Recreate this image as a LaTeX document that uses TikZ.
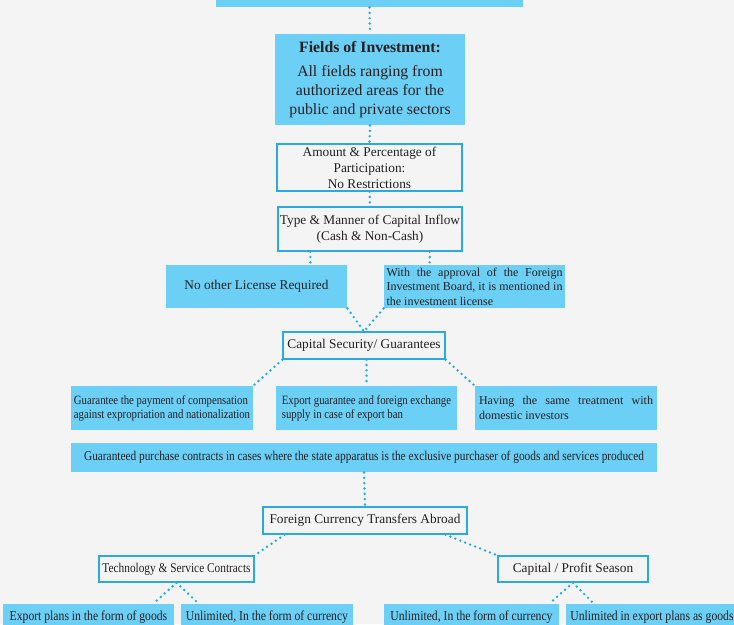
\documentclass[tikz,border=0pt]{standalone}
\usepackage{fontspec}
\setmainfont{Liberation Serif}
\newfontfamily\narrowfont[FakeStretch=0.85]{Liberation Serif}
\usetikzlibrary{calc}

\tikzset{every picture/.style={line width=0.75pt}}
\tikzset{
  bluebox/.style={fill={rgb, 255:red, 107; green, 207; blue, 246 }, inner sep=0.75pt, text={rgb, 255:red, 35; green, 31; blue, 32 }},
  linebox/.style={draw={rgb, 255:red, 41; green, 171; blue, 226 }, line width=1pt, fill={rgb, 255:red, 244; green, 244; blue, 244 }, inner sep=0.75pt, text={rgb, 255:red, 35; green, 31; blue, 32 }},
  dotline/.style={draw={rgb, 255:red, 28; green, 170; blue, 236 }, line width=2pt, line cap=round, dash pattern=on 0pt off 4pt},
}

\begin{document}
\begin{tikzpicture}[x=0.75pt,y=0.75pt,yscale=-1,xscale=1]
\useasboundingbox (0,0) rectangle (734,624);
\clip (0,0) rectangle (734,624);
%Shape: Rectangle (background)
\fill [fill={rgb, 255:red, 244; green, 244; blue, 244 }] (0,0) rectangle (734,624);

%Shape: Rectangle
\node [bluebox, minimum width=230.25pt, minimum height=27.75pt] (top) at (369.5,-11.5) {};
% Text Node
\node [bluebox, minimum width=142.5pt, minimum height=68.25pt, align=center, font=\fontsize{11.8}{13.9}\selectfont] (fields) at (370,79.5) {\textbf{Fields of Investment:}\\[4.3pt]All fields ranging from\\authorized areas for the\\public and private sectors};
% Text Node
\node [linebox, minimum width=138.75pt, minimum height=35.25pt, align=center, font=\fontsize{10}{12}\selectfont] (amount) at (369.5,167.5) {Amount \& Percentage of\\Participation:\\No Restrictions};
% Text Node
\node [linebox, minimum width=138pt, minimum height=33pt, align=center, font=\fontsize{10}{12}\selectfont] (type) at (370,229) {Type \& Manner of Capital Inflow\\(Cash \& Non-Cash)};
% Text Node
\node [bluebox, minimum width=135.75pt, minimum height=32.25pt, font=\fontsize{10}{12}\selectfont] (lic) at (256.5,286.5) {No other License Required};
% Text Node
\node [bluebox, minimum width=135.75pt, minimum height=32.25pt, text width=132pt, align=justify, font=\fontsize{9}{10.9}\selectfont] (appr) at (474.5,286.5) {With the approval of the Foreign\linebreak Investment Board, it is mentioned in\linebreak the investment license};
% Text Node
\node [linebox, minimum width=121.5pt, minimum height=20.25pt, font=\fontsize{10}{12}\selectfont] (capsec) at (364,345.5) {Capital Security/ Guarantees};

% Text Node
\node [bluebox, minimum width=136.5pt, minimum height=33pt, align=left, font=\narrowfont\fontsize{9.5}{10.5}\selectfont] (guar) at (162,408) {Guarantee the payment of compensation\\against expropriation and nationalization};
% Text Node
\node [bluebox, minimum width=135.75pt, minimum height=33pt, align=left, font=\narrowfont\fontsize{9.5}{10.5}\selectfont] (expo) at (366.5,408) {Export guarantee and foreign exchange\\supply in case of export ban};
% Text Node
\node [bluebox, minimum width=136.5pt, minimum height=33pt, text width=130.5pt, align=justify, font=\fontsize{9}{11}\selectfont] (same) at (566,408) {Having the same treatment with\linebreak domestic investors};
% Text Node
\node [bluebox, minimum width=439.5pt, minimum height=21.75pt, font=\narrowfont\fontsize{10}{12}\selectfont] (full) at (364,457.5) {Guaranteed purchase contracts in cases where the state apparatus is the exclusive purchaser of goods and services produced};

% Text Node
\node [linebox, minimum width=153pt, minimum height=20.25pt, font=\fontsize{10}{12}\selectfont] (fc) at (365,520.5) {Foreign Currency Transfers Abroad};
% Text Node
\node [linebox, minimum width=116.25pt, minimum height=19.5pt, font=\narrowfont\fontsize{10}{12}\selectfont] (tech) at (176.5,569) {Technology \& Service Contracts};
% Text Node
\node [linebox, minimum width=112.5pt, minimum height=19.5pt, font=\fontsize{10}{12}\selectfont] (cps) at (573,569) {Capital / Profit Season};

% Text Node
\node [bluebox, minimum width=128.25pt, minimum height=19.5pt, font=\narrowfont\fontsize{10.3}{12}\selectfont] (b1) at (88.5,617) {Export plans in the form of goods};
% Text Node
\node [bluebox, minimum width=129pt, minimum height=19.5pt, font=\narrowfont\fontsize{10.3}{12}\selectfont] (b2) at (267,617) {Unlimited, In the form of currency};
% Text Node
\node [bluebox, minimum width=131.25pt, minimum height=19.5pt, font=\narrowfont\fontsize{10.3}{12}\selectfont] (b3) at (471.5,617) {Unlimited, In the form of currency};
% Text Node
\node [bluebox, minimum width=129pt, minimum height=19.5pt, font=\narrowfont\fontsize{10.3}{12}\selectfont] (b4) at (652,617) {Unlimited in export plans as goods};

%Straight Lines
\draw [dotline] (top.south) -- (fields.north);
\draw [dotline] (fields.south) -- (amount.north);
\draw [dotline] (amount.south) -- (type.north);
\coordinate (tl) at ([xshift=24.75pt]type.south west);
\coordinate (tr) at ([xshift=-24.75pt]type.south east);
\draw [dotline] (tl) -- (tl |- lic.north);
\draw [dotline] (tr) -- (tr |- appr.north);
\draw [dotline] (lic.south east) -- (capsec.north);
\draw [dotline] (appr.south west) -- (capsec.north);
%Straight Lines
\draw [dotline] (capsec.south west) -- (guar.north east);
\draw [dotline] (capsec.south -| expo.north) -- (expo.north);
\draw [dotline] (capsec.south east) -- (same.north west);
%Straight Lines
\draw [dotline] (full.south) -- (fc.north);
\draw [dotline] (fc.190) -- (tech.north east);
\draw [dotline] (fc.350) -- (cps.north west);
\draw [dotline] (tech.south) -- ($(b1.north east)+(-21,0)$);
\draw [dotline] (tech.south) -- ($(b2.north west)+(18,0)$);
\draw [dotline] (cps.south) -- ($(b3.north east)+(-10,0)$);
\draw [dotline] (cps.south) -- ($(b4.north west)+(28,0)$);

\end{tikzpicture}
\end{document}
